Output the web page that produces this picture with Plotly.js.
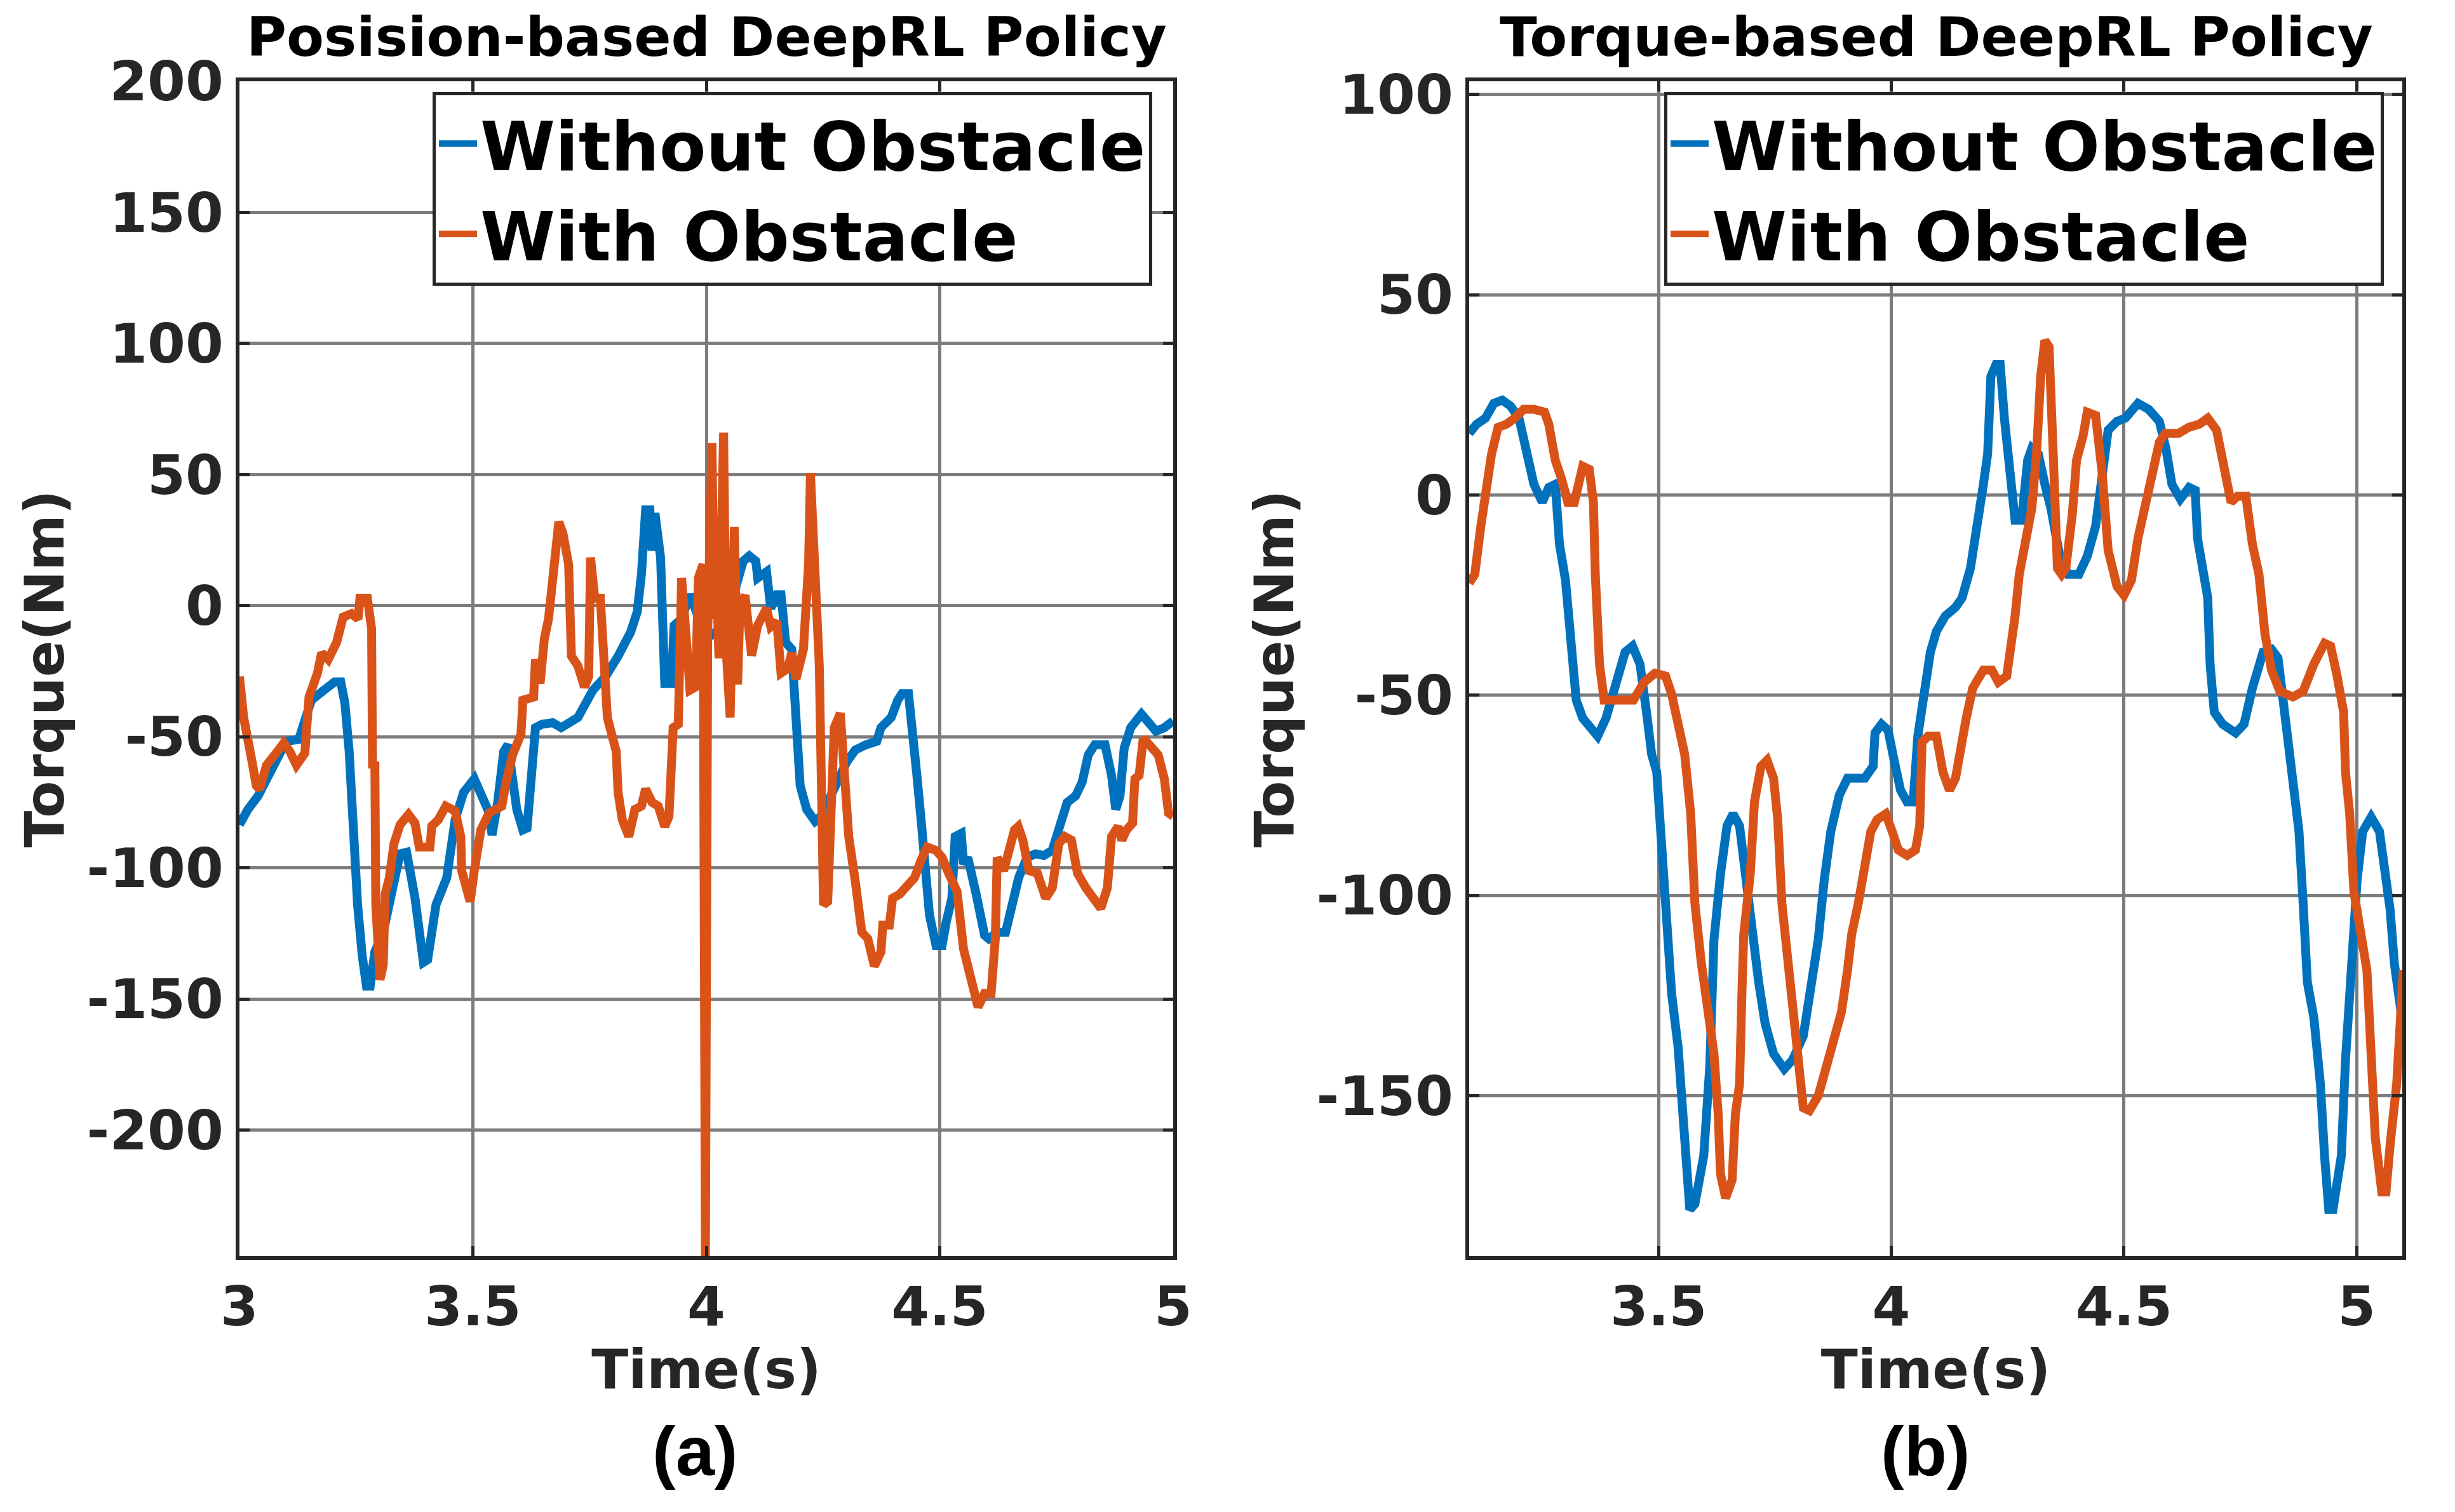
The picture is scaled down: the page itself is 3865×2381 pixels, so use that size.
<!DOCTYPE html>
<html>
<head>
<meta charset="utf-8">
<script src="https://cdn.plot.ly/plotly-3.0.1.min.js"></script>
<style>
html,body{margin:0;padding:0;background:#ffffff;}
#chart{width:3865px;height:2381px;}
</style>
</head>
<body>
<div id="chart"></div>
<script>
// ---------------- DATA ----------------
// (a) Position-based DeepRL policy
const timeA_without = [3.000,3.018,3.040,3.063,3.081,3.100,3.127,3.140,3.154,3.181,3.204,3.217,3.226,3.235,3.244,3.253,3.263,3.272,3.280,3.290,3.308,3.326,3.344,3.358,3.376,3.394,3.403,3.421,3.444,3.462,3.480,3.503,3.517,3.535,3.541,3.553,3.566,3.575,3.594,3.607,3.616,3.634,3.648,3.671,3.689,3.725,3.757,3.784,3.811,3.838,3.852,3.861,3.870,3.879,3.884,3.890,3.902,3.911,3.925,3.931,3.947,3.965,3.974,3.990,4.005,4.020,4.033,4.056,4.079,4.092,4.106,4.110,4.129,4.138,4.151,4.160,4.170,4.183,4.192,4.201,4.215,4.233,4.247,4.265,4.287,4.301,4.319,4.342,4.365,4.374,4.396,4.410,4.419,4.433,4.442,4.451,4.460,4.469,4.478,4.492,4.505,4.514,4.526,4.533,4.546,4.551,4.560,4.578,4.596,4.605,4.623,4.641,4.650,4.669,4.687,4.705,4.723,4.741,4.759,4.773,4.791,4.805,4.818,4.832,4.854,4.868,4.877,4.886,4.895,4.909,4.932,4.950,4.963,4.981,5.000];
const torqueA_without = [-83.5,-77.7,-72.5,-64.7,-59.5,-51.7,-51,-42.6,-36,-32.2,-29,-29,-37.4,-55.6,-88,-114,-133.5,-145,-145,-132,-124.5,-107.6,-94.6,-94,-111.5,-136,-135,-114,-103.7,-81.6,-71.2,-66,-71.2,-79,-87.4,-75,-55.6,-53,-77.7,-85.5,-84.8,-46.5,-45.2,-44.6,-46.5,-42.6,-32.2,-27,-19.2,-10,-2.3,12,36.6,36.6,21,35.3,18.4,-29.6,-29.6,-7.5,-5,4.2,0,-8,-12,-10,-11.4,2.9,17,19,17,10.6,13,-1,4.2,4.2,-14,-16.6,-49,-68.6,-77.7,-82.2,-80,-73.8,-64.7,-59.5,-55,-53,-51.7,-46.5,-42.6,-36,-33.5,-33.5,-46.5,-64.7,-81.6,-101,-118,-129.6,-129.6,-120.5,-111.5,-88,-86.8,-98.5,-96,-110,-125.7,-127,-124.5,-124.5,-116.6,-103.7,-96,-94.6,-95.2,-93.3,-82.9,-75,-72.5,-67.3,-56.9,-53,-53,-64.7,-77.7,-72.5,-54.3,-46.5,-41.3,-45.2,-47.8,-46.5,-43.9];

const timeA_with = [3.000,3.009,3.027,3.036,3.043,3.058,3.081,3.095,3.108,3.122,3.140,3.149,3.167,3.176,3.190,3.208,3.222,3.240,3.254,3.258,3.274,3.283,3.285,3.290,3.292,3.301,3.308,3.312,3.321,3.331,3.344,3.362,3.376,3.385,3.408,3.412,3.426,3.442,3.462,3.474,3.476,3.494,3.503,3.517,3.535,3.562,3.571,3.585,3.603,3.607,3.630,3.634,3.644,3.653,3.662,3.670,3.676,3.684,3.693,3.705,3.711,3.725,3.739,3.748,3.752,3.761,3.773,3.788,3.807,3.811,3.820,3.834,3.847,3.861,3.870,3.884,3.897,3.911,3.920,3.929,3.940,3.947,3.956,3.965,3.977,3.983,3.993,3.998,4.003,4.008,4.012,4.017,4.022,4.027,4.032,4.037,4.042,4.051,4.060,4.067,4.072,4.083,4.097,4.110,4.129,4.138,4.151,4.160,4.174,4.183,4.192,4.208,4.219,4.223,4.242,4.251,4.260,4.267,4.274,4.287,4.296,4.305,4.319,4.333,4.346,4.360,4.374,4.378,4.392,4.399,4.414,4.433,4.446,4.460,4.473,4.492,4.505,4.519,4.537,4.551,4.564,4.576,4.582,4.596,4.610,4.619,4.623,4.637,4.650,4.660,4.668,4.678,4.691,4.709,4.727,4.741,4.755,4.768,4.782,4.795,4.813,4.832,4.845,4.859,4.868,4.882,4.890,4.900,4.913,4.918,4.927,4.936,4.950,4.968,4.981,4.990,5.000];
const torqueA_with = [-27,-42.6,-59.5,-68.6,-70,-60.8,-55.6,-52.3,-55.6,-60.8,-56.2,-34.8,-25.7,-18,-20.5,-14,-4.3,-3,-5,2.9,2.9,-8.8,-62,-59.5,-114,-142.6,-137,-110,-103.7,-90.7,-83.5,-79.6,-82.9,-92,-92,-84,-81.6,-76.4,-78.3,-88,-101,-112.8,-101,-85.5,-79,-76.4,-67.3,-56.9,-49,-36,-34.8,-20.5,-29.6,-12.7,-5,10,25,32,27.5,15.8,-19.2,-23,-31,-27,18.4,2.9,2.9,-42.6,-55.6,-71.2,-81.6,-88,-77.7,-76.4,-69.9,-75,-76.4,-84.2,-80.3,-46.5,-45.2,10.6,-10,-32.2,-31,10.6,15.8,-248,-10,40,62,-5,10,-20,50,66,-15,-42.6,30,-30,0,4,-19,-7.5,-1,-8,-6,-25.7,-24,-18,-28,-16.6,15.8,50.5,-23,-114,-112.8,-75,-46.5,-41,-62,-88,-105,-124.5,-127,-137.4,-132,-121.8,-121.8,-111.5,-110,-106,-103.7,-97,-92,-93.3,-96,-102,-108.9,-131,-140,-151.7,-153,-147.8,-147.8,-127,-96,-101,-90.7,-85.5,-84.2,-89.4,-101,-102,-111.5,-107.6,-90.7,-88,-89.4,-102,-107.6,-112.8,-115.4,-107.6,-88,-84.2,-89.4,-85.5,-82.9,-66,-64.7,-50.4,-53,-56.9,-66,-79,-80.3];

// (b) Torque-based DeepRL policy
const timeB_without = [3.093,3.109,3.128,3.146,3.164,3.182,3.200,3.214,3.232,3.250,3.264,3.278,3.287,3.300,3.314,3.323,3.337,3.355,3.369,3.387,3.410,3.428,3.444,3.460,3.474,3.485,3.496,3.506,3.519,3.528,3.542,3.556,3.567,3.578,3.597,3.610,3.619,3.633,3.647,3.660,3.674,3.688,3.701,3.715,3.729,3.747,3.770,3.788,3.811,3.829,3.843,3.856,3.870,3.888,3.906,3.924,3.943,3.961,3.965,3.979,3.993,4.006,4.020,4.034,4.047,4.057,4.070,4.084,4.097,4.116,4.138,4.152,4.170,4.184,4.198,4.207,4.214,4.225,4.234,4.243,4.257,4.266,4.280,4.293,4.302,4.316,4.330,4.343,4.362,4.380,4.403,4.421,4.439,4.453,4.466,4.485,4.503,4.530,4.553,4.576,4.590,4.603,4.621,4.640,4.653,4.658,4.671,4.680,4.685,4.694,4.712,4.740,4.758,4.776,4.799,4.817,4.831,4.849,4.867,4.876,4.885,4.894,4.908,4.922,4.931,4.940,4.949,4.967,4.976,4.990,5.001,5.013,5.031,5.049,5.063,5.072,5.081,5.095,5.100];
const torqueB_without = [15.4,17.7,19.2,22.9,23.7,22.2,19.2,11.7,2.7,-1.8,1.9,2.7,-12.3,-21.3,-39.2,-51.2,-55.7,-58.7,-60.2,-55.7,-45.2,-39.2,-37.7,-42.2,-54.2,-64.7,-69.2,-87,-114,-124.5,-138,-159,-178.4,-177,-165,-142.5,-111,-94.6,-82.6,-79.6,-82.6,-96,-109.6,-121.6,-132,-139.5,-143.3,-141,-135,-123,-111,-96,-84,-75,-70.7,-70.7,-70.7,-67.7,-59.4,-57.2,-58.7,-66.2,-73.7,-76.6,-76.6,-60.2,-48.2,-39.2,-34,-30.2,-28,-25.7,-18.3,-9.3,2.7,10.2,29.6,32.6,32.6,19.2,2.7,-6.3,-6.3,8.7,11.7,10.2,2.7,-3.3,-15.3,-19.8,-19.8,-15.3,-7.8,7.2,16.2,18.4,19.2,22.9,21.4,18.4,11.7,2.7,-1,1.9,1.2,-10.8,-21.3,-25.7,-42.2,-54.2,-57.2,-59.4,-57.2,-48.2,-39.2,-38.5,-40.7,-57.2,-72.2,-84,-102,-121.6,-130.5,-147,-165,-178.4,-178.4,-165,-141,-114,-96,-84,-80.4,-84,-96,-103.6,-117,-129,-133];

const timeB_with = [3.093,3.105,3.118,3.128,3.141,3.155,3.173,3.191,3.210,3.232,3.255,3.264,3.278,3.291,3.305,3.319,3.330,3.337,3.351,3.360,3.364,3.373,3.383,3.401,3.428,3.446,3.469,3.492,3.515,3.528,3.542,3.556,3.569,3.578,3.592,3.606,3.619,3.628,3.633,3.644,3.658,3.665,3.674,3.679,3.683,3.697,3.706,3.720,3.733,3.747,3.756,3.765,3.783,3.797,3.811,3.824,3.843,3.861,3.879,3.893,3.906,3.915,3.929,3.943,3.956,3.970,3.988,4.002,4.015,4.034,4.052,4.061,4.066,4.079,4.097,4.111,4.125,4.138,4.148,4.161,4.175,4.198,4.216,4.230,4.248,4.257,4.266,4.275,4.289,4.302,4.312,4.321,4.330,4.339,4.348,4.357,4.366,4.375,4.389,4.398,4.412,4.421,4.439,4.453,4.466,4.485,4.500,4.516,4.530,4.539,4.557,4.576,4.589,4.617,4.639,4.662,4.680,4.699,4.712,4.730,4.744,4.762,4.776,4.790,4.803,4.817,4.835,4.863,4.885,4.908,4.931,4.944,4.958,4.972,4.976,4.985,4.994,5.008,5.022,5.031,5.040,5.054,5.063,5.072,5.086,5.100];
const torqueB_with = [-22,-19.8,-7.8,-0.3,10.2,16.9,17.7,19.2,21.4,21.4,20.7,17.7,8.7,4.2,-1.8,-1.8,2.7,7.2,6.4,-1.8,-19.8,-42.2,-51.2,-51.2,-51.2,-51.2,-46.7,-44.5,-45.2,-49.7,-57.2,-64.7,-79.6,-102,-117,-129,-139.5,-154.5,-169.5,-175.5,-171,-154.5,-147,-124.5,-109.6,-94.6,-76.6,-67.7,-66.2,-70.7,-81,-102,-123,-141,-153,-153.7,-150,-142.5,-135,-129,-118.6,-109.6,-102,-91.6,-84,-81,-79.6,-84,-88.6,-90,-88.6,-82.6,-61.7,-60.2,-60.2,-69.2,-73.7,-70.7,-63.2,-55.7,-48.2,-43.7,-43.7,-46.7,-45.2,-39.2,-30.2,-19.8,-12.3,-3.3,10.2,29.6,38.6,37,10.2,-18.3,-19.8,-18.3,-4.8,8.7,14.7,20.7,19.9,5.7,-13.8,-22.8,-25,-21.3,-10.8,-6.3,2.7,13.2,15.4,15.4,16.9,17.7,19.2,16.2,8.7,-1.8,-0.3,-0.3,-12.3,-19.8,-34.7,-43.7,-49,-50.4,-49,-42.2,-37,-37.7,-45.2,-54.2,-69.2,-79.6,-99,-109.6,-118.6,-139.5,-160.5,-174,-174,-162,-147,-118.6];

// Tick labels
const yTicksA = [-200,-150,-100,-50,0,50,100,150,200];
const yTickTextA = ['-200','-150','-100','-50','0','50','100','150','200'];
const yTicksB = [-150,-100,-50,0,50,100];
const yTickTextB = ['-150','-100','-50','0','50','100'];
const xTicksA = [3,3.5,4,4.5,5];
const xTickTextA = ['3','3.5','4','4.5','5'];
const xTicksB = [3.5,4,4.5,5];
const xTickTextB = ['3.5','4','4.5','5'];

const seriesNames = ['Without Obstacle','With Obstacle'];
const panelTitles = ['Posision-based DeepRL Policy','Torque-based DeepRL Policy'];
const panelLabels = ['(a)','(b)'];

// ---------------- STYLE ----------------
const W = 3865, H = 2381;
const M = {l:377, r:83, t:128, b:403};
const PW = W - M.l - M.r, PH = H - M.t - M.b;
const px = X => (X - M.l) / PW;
const py = Y => (H - M.b - Y) / PH;

const BLUE = '#0072BD', ORANGE = '#D95319';
const AX = '#262626', GRID = '#7c7c7c';
const FAM = 'DejaVu Sans, Liberation Sans, sans-serif';
const LW = 14;

function mkTrace(x, y, name, color, xa, ya, leg) {
  return {x:x, y:y, name:name, type:'scatter', mode:'lines',
    line:{color:color, width:LW}, xaxis:xa, yaxis:ya, legend:leg, cliponaxis:true};
}

const data = [
  mkTrace(timeA_without, torqueA_without, seriesNames[0], BLUE, 'x', 'y', 'legend'),
  mkTrace(timeA_with, torqueA_with, seriesNames[1], ORANGE, 'x', 'y', 'legend'),
  mkTrace(timeB_without, torqueB_without, seriesNames[0], BLUE, 'x2', 'y2', 'legend2'),
  mkTrace(timeB_with, torqueB_with, seriesNames[1], ORANGE, 'x2', 'y2', 'legend2')
];

const tickFont = {family:FAM, size:86, color:AX, weight:'bold'};
const titleFont = {family:FAM, size:85, color:AX, weight:'bold'};

function xAxis(domain, range, tv, tt, anchor) {
  return {domain:domain, range:range, anchor:anchor, tickvals:tv, ticktext:tt,
    ticks:'inside', ticklen:16, tickwidth:5, tickcolor:AX,
    showline:true, linewidth:6, linecolor:AX, mirror:'ticks',
    showgrid:true, gridcolor:GRID, gridwidth:5, zeroline:false,
    tickfont:tickFont, ticklabelstandoff:0, automargin:false,
    title:{text:'Time(s)', font:titleFont, standoff:22}};
}
function yAxis(range, tv, tt, anchor) {
  return {domain:[0,1], range:range, anchor:anchor, tickvals:tv, ticktext:tt,
    ticks:'inside', ticklen:16, tickwidth:5, tickcolor:AX,
    showline:true, linewidth:6, linecolor:AX, mirror:'ticks',
    showgrid:true, gridcolor:GRID, gridwidth:5, zeroline:false,
    tickfont:tickFont, ticklabelstandoff:2, automargin:false,
    title:{text:'Torque(Nm)', font:titleFont, standoff:10}};
}

const legendBase = {
  xanchor:'left', yanchor:'top', bgcolor:'#ffffff',
  bordercolor:AX, borderwidth:5,
  font:{family:FAM, size:107, color:'#000000', weight:'bold'},
  itemwidth:60, tracegroupgap:0
};

const layout = {
  width:W, height:H,
  margin:{l:M.l, r:M.r, t:M.t, b:M.b, pad:0},
  paper_bgcolor:'#ffffff', plot_bgcolor:'#ffffff',
  showlegend:true,
  xaxis: xAxis([0, px(1847)], [3,5], xTicksA, xTickTextA, 'y'),
  yaxis: yAxis([-248,200], yTicksA, yTickTextA, 'x'),
  xaxis2: xAxis([px(2313), 1], [3.093,5.098], xTicksB, xTickTextB, 'y2'),
  yaxis2: yAxis([-190,103.3], yTicksB, yTickTextB, 'x2'),
  legend: Object.assign({}, legendBase, {x:px(681), y:py(145)}),
  legend2: Object.assign({}, legendBase, {x:px(2620), y:py(145)}),
  annotations: [
    {text:panelTitles[0], xref:'paper', yref:'paper', x:px(1112), y:py(58), xanchor:'center', yanchor:'middle', showarrow:false,
     font:{family:FAM, size:86, color:'#000000', weight:'bold'}},
    {text:panelTitles[1], xref:'paper', yref:'paper', x:px(3048), y:py(58), xanchor:'center', yanchor:'middle', showarrow:false,
     font:{family:FAM, size:86, color:'#000000', weight:'bold'}},
    {text:panelLabels[0], xref:'paper', yref:'paper', x:px(1094), y:py(2284), xanchor:'center', yanchor:'middle', showarrow:false,
     font:{family:'Liberation Sans, Arial, sans-serif', size:110, color:'#000000', weight:'bold'}},
    {text:panelLabels[1], xref:'paper', yref:'paper', x:px(3031), y:py(2284), xanchor:'center', yanchor:'middle', showarrow:false,
     font:{family:'Liberation Sans, Arial, sans-serif', size:110, color:'#000000', weight:'bold'}}
  ]
};

Plotly.newPlot('chart', data, layout, {displayModeBar:false, staticPlot:true});
</script>
</body>
</html>
